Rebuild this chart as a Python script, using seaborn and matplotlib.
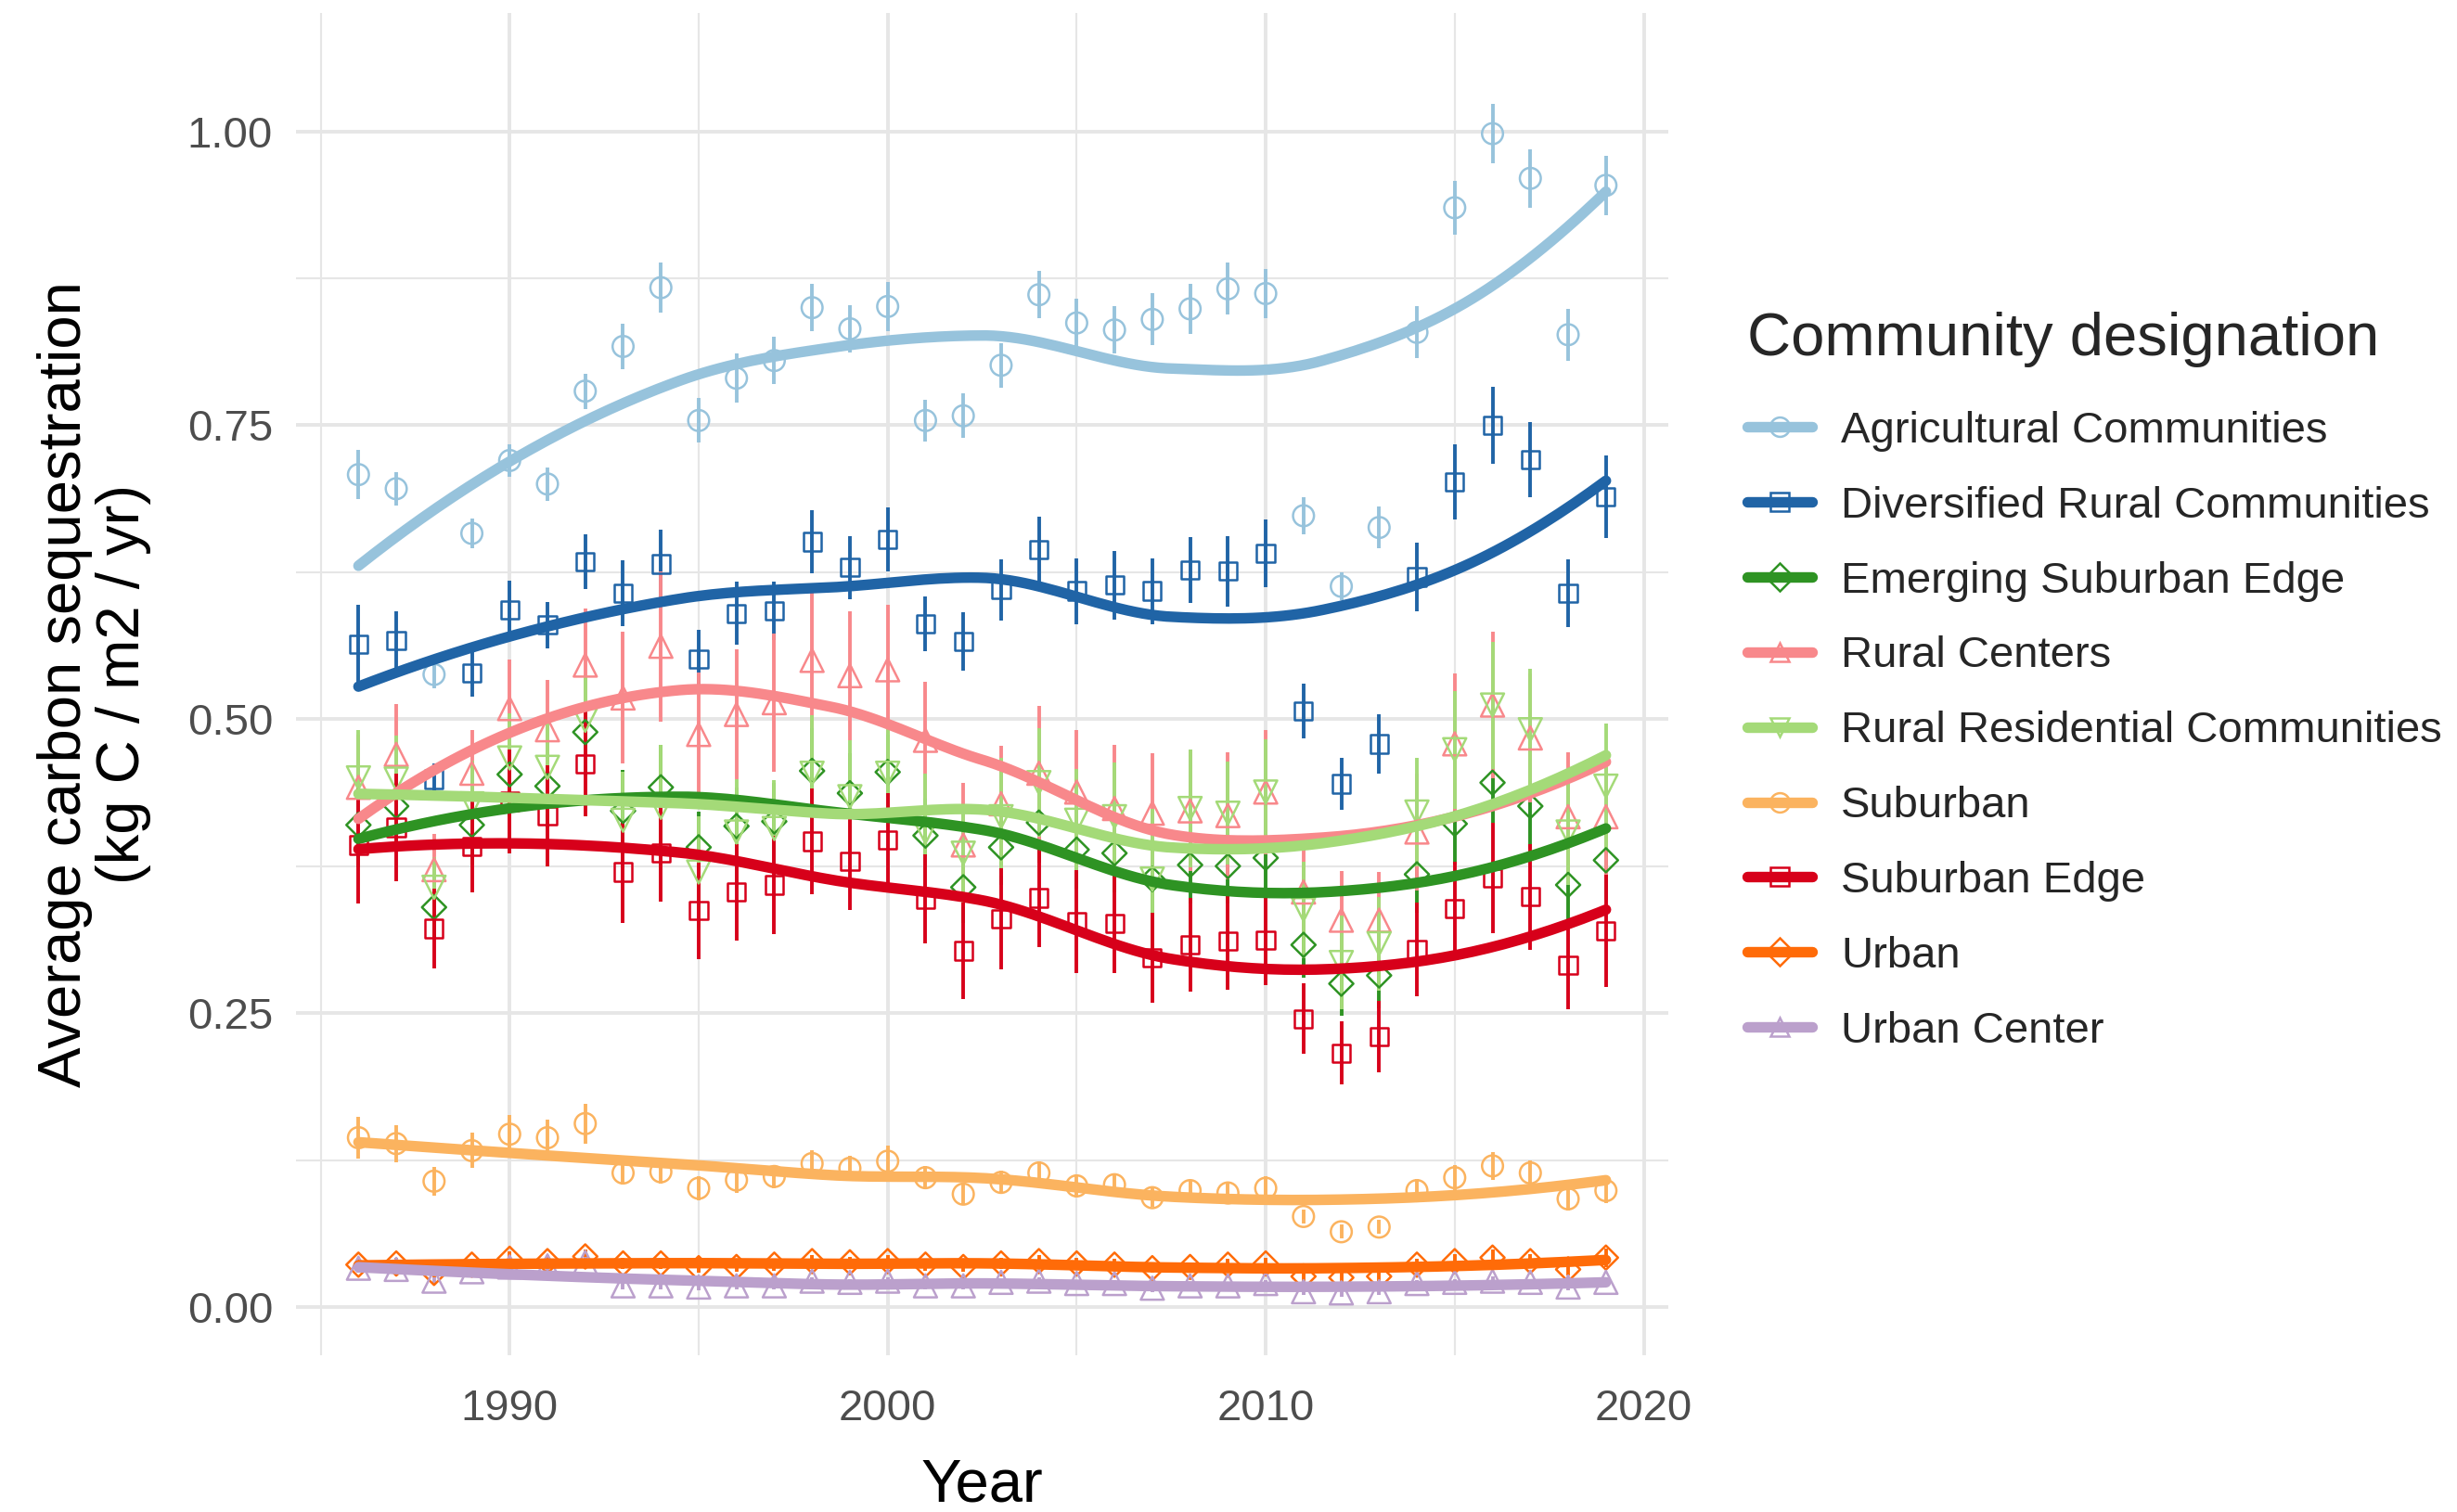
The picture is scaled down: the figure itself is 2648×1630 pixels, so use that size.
import numpy as np
import pandas as pd
import seaborn as sns
import matplotlib
matplotlib.use("Agg")
import matplotlib.pyplot as plt
from matplotlib.lines import Line2D

# ---------------------------------------------------------------- data
years = list(range(1986, 2020))

groups = [
    "Agricultural Communities",
    "Diversified Rural Communities",
    "Emerging Suburban Edge",
    "Rural Centers",
    "Rural Residential Communities",
    "Suburban",
    "Suburban Edge",
    "Urban",
    "Urban Center",
]

agricultural = [0.708, 0.696, 0.538, 0.658, 0.720, 0.700, 0.779, 0.817, 0.867, 0.754,
                0.790, 0.805, 0.850, 0.832, 0.851, 0.754, 0.758, 0.801, 0.861, 0.837,
                0.831, 0.840, 0.849, 0.866, 0.862, 0.673, 0.613, 0.663, 0.829, 0.935,
                0.998, 0.960, 0.827, 0.954]
agricultural_se = [0.021, 0.014, 0.012, 0.013, 0.014, 0.014, 0.015, 0.019, 0.021, 0.019,
                   0.021, 0.020, 0.020, 0.020, 0.021, 0.018, 0.019, 0.019, 0.020, 0.021,
                   0.020, 0.022, 0.021, 0.022, 0.021, 0.016, 0.012, 0.018, 0.022, 0.023,
                   0.025, 0.025, 0.022, 0.025]

diversified = [0.564, 0.567, 0.449, 0.539, 0.593, 0.580, 0.634, 0.607, 0.632, 0.551,
               0.590, 0.592, 0.651, 0.629, 0.653, 0.581, 0.566, 0.610, 0.644, 0.609,
               0.614, 0.609, 0.627, 0.626, 0.641, 0.507, 0.445, 0.479, 0.621, 0.702,
               0.750, 0.721, 0.607, 0.689]
diversified_se = [0.033, 0.025, 0.013, 0.020, 0.025, 0.020, 0.023, 0.028, 0.029, 0.025,
                  0.027, 0.025, 0.027, 0.027, 0.027, 0.023, 0.025, 0.026, 0.028, 0.028,
                  0.029, 0.028, 0.028, 0.030, 0.029, 0.023, 0.022, 0.025, 0.029, 0.032,
                  0.033, 0.032, 0.029, 0.035]

emerging = [0.410, 0.426, 0.340, 0.410, 0.453, 0.443, 0.489, 0.422, 0.442, 0.391,
            0.409, 0.413, 0.456, 0.437, 0.455, 0.401, 0.357, 0.391, 0.412, 0.389,
            0.386, 0.364, 0.376, 0.375, 0.382, 0.308, 0.275, 0.282, 0.368, 0.411,
            0.446, 0.426, 0.359, 0.380]
emerging_se = [0.036, 0.035, 0.027, 0.034, 0.036, 0.035, 0.037, 0.035, 0.036, 0.030,
               0.033, 0.033, 0.036, 0.034, 0.035, 0.032, 0.030, 0.032, 0.034, 0.033,
               0.033, 0.031, 0.033, 0.032, 0.033, 0.028, 0.027, 0.028, 0.033, 0.035,
               0.034, 0.036, 0.032, 0.034]

rural_centers = [0.442, 0.470, 0.372, 0.454, 0.509, 0.491, 0.546, 0.518, 0.562, 0.487,
                 0.504, 0.514, 0.550, 0.537, 0.542, 0.482, 0.393, 0.428, 0.454, 0.438,
                 0.424, 0.420, 0.422, 0.418, 0.438, 0.353, 0.329, 0.329, 0.404, 0.479,
                 0.512, 0.484, 0.417, 0.417]
rural_centers_se = [0.045, 0.043, 0.030, 0.037, 0.042, 0.042, 0.048, 0.056, 0.064, 0.053,
                    0.055, 0.059, 0.058, 0.055, 0.055, 0.050, 0.053, 0.049, 0.057, 0.053,
                    0.054, 0.051, 0.051, 0.054, 0.053, 0.036, 0.042, 0.041, 0.050, 0.060,
                    0.062, 0.055, 0.055, 0.050]

rural_residential = [0.450, 0.449, 0.357, 0.428, 0.467, 0.459, 0.499, 0.414, 0.425, 0.370,
                     0.404, 0.407, 0.454, 0.434, 0.454, 0.404, 0.386, 0.417, 0.446, 0.414,
                     0.417, 0.364, 0.424, 0.420, 0.438, 0.338, 0.293, 0.309, 0.421, 0.474,
                     0.512, 0.491, 0.404, 0.443]
rural_residential_se = [0.041, 0.037, 0.026, 0.037, 0.038, 0.040, 0.038, 0.041, 0.053, 0.047,
                        0.045, 0.041, 0.049, 0.048, 0.046, 0.050, 0.042, 0.050, 0.046, 0.044,
                        0.046, 0.060, 0.050, 0.044, 0.045, 0.041, 0.040, 0.040, 0.046, 0.050,
                        0.054, 0.052, 0.045, 0.053]

suburban = [0.144, 0.139, 0.107, 0.133, 0.147, 0.144, 0.156, 0.114, 0.115, 0.101,
            0.108, 0.111, 0.122, 0.118, 0.124, 0.110, 0.096, 0.106, 0.114, 0.103,
            0.104, 0.093, 0.099, 0.097, 0.101, 0.077, 0.064, 0.068, 0.099, 0.110,
            0.120, 0.114, 0.092, 0.099]
suburban_se = [0.018, 0.016, 0.012, 0.015, 0.016, 0.015, 0.017, 0.010, 0.010, 0.010,
               0.011, 0.010, 0.011, 0.011, 0.013, 0.010, 0.009, 0.010, 0.010, 0.010,
               0.010, 0.008, 0.009, 0.009, 0.010, 0.006, 0.006, 0.006, 0.010, 0.011,
               0.012, 0.011, 0.010, 0.011]

suburban_edge = [0.393, 0.408, 0.322, 0.392, 0.430, 0.418, 0.462, 0.370, 0.386, 0.337,
                 0.353, 0.359, 0.396, 0.379, 0.397, 0.347, 0.303, 0.330, 0.348, 0.328,
                 0.326, 0.297, 0.308, 0.311, 0.312, 0.245, 0.216, 0.230, 0.304, 0.339,
                 0.365, 0.349, 0.291, 0.320]
suburban_edge_se = [0.050, 0.046, 0.034, 0.039, 0.044, 0.043, 0.045, 0.043, 0.041, 0.041,
                    0.041, 0.042, 0.045, 0.041, 0.040, 0.038, 0.041, 0.043, 0.042, 0.044,
                    0.042, 0.038, 0.040, 0.041, 0.038, 0.030, 0.027, 0.030, 0.040, 0.040,
                    0.047, 0.045, 0.038, 0.048]

urban = [0.036, 0.037, 0.029, 0.036, 0.041, 0.039, 0.043, 0.037, 0.037, 0.033,
         0.034, 0.036, 0.039, 0.038, 0.039, 0.036, 0.034, 0.037, 0.039, 0.037,
         0.036, 0.033, 0.034, 0.036, 0.037, 0.026, 0.025, 0.026, 0.036, 0.039,
         0.042, 0.039, 0.032, 0.042]
urban_se = [0.005, 0.005, 0.004, 0.005, 0.006, 0.005, 0.006, 0.005, 0.005, 0.004,
            0.004, 0.005, 0.005, 0.005, 0.005, 0.005, 0.004, 0.005, 0.005, 0.005,
            0.005, 0.004, 0.004, 0.005, 0.005, 0.004, 0.004, 0.004, 0.005, 0.006,
            0.007, 0.006, 0.005, 0.008]

urban_center = [0.033, 0.032, 0.022, 0.030, 0.034, 0.035, 0.038, 0.018, 0.018, 0.017,
                0.018, 0.018, 0.022, 0.021, 0.022, 0.018, 0.018, 0.021, 0.022, 0.020,
                0.020, 0.016, 0.018, 0.018, 0.020, 0.013, 0.012, 0.013, 0.020, 0.021,
                0.022, 0.021, 0.017, 0.021]
urban_center_se = [0.004, 0.004, 0.003, 0.004, 0.004, 0.004, 0.005, 0.003, 0.003, 0.003,
                   0.003, 0.003, 0.003, 0.003, 0.003, 0.003, 0.003, 0.003, 0.003, 0.003,
                   0.003, 0.003, 0.003, 0.003, 0.003, 0.003, 0.003, 0.003, 0.003, 0.003,
                   0.004, 0.003, 0.003, 0.004]

means = [agricultural, diversified, emerging, rural_centers, rural_residential,
         suburban, suburban_edge, urban, urban_center]
errors = [agricultural_se, diversified_se, emerging_se, rural_centers_se,
          rural_residential_se, suburban_se, suburban_edge_se, urban_se, urban_center_se]

colors = ["#97c3dc", "#2064a6", "#2e9323", "#f8888b", "#a4da78",
          "#fbb35f", "#d7001a", "#ff6b08", "#bba0cc"]
markers = ["o", "s", "D", "^", "v", "o", "s", "D", "^"]
marker_sizes = [66, 48, 44, 80, 80, 66, 48, 44, 80]

# ---------------------------------------------------------------- tables
df = pd.DataFrame({
    "Year": np.tile(years, len(groups)),
    "group": np.repeat(groups, len(years)),
    "mean": np.concatenate(means),
    "se": np.concatenate(errors),
})
df["lo"] = df["mean"] - df["se"]
df["hi"] = df["mean"] + df["se"]


def local_fit(x, y, x0, q):
    """Tricube-weighted local quadratic at x0: returns value and slope."""
    d = np.abs(x - x0)
    h = np.sort(d)[q - 1]
    u = d / h
    w = np.where(u < 1, (1 - u ** 3) ** 3, 0.0)
    X = np.column_stack([np.ones_like(x), x - x0, (x - x0) ** 2])
    sw = np.sqrt(w)
    beta, *_ = np.linalg.lstsq(X * sw[:, None], y * sw, rcond=None)
    return beta[0], beta[1]


def loess(x, y, grid, span=0.75, cell=0.2):
    """loess (degree 2) evaluated on kd-tree vertices and blended with
    cubic Hermite interpolation between them."""
    x = np.asarray(x, float)
    y = np.asarray(y, float)
    order = np.argsort(x)
    x, y = x[order], y[order]
    n = len(x)
    q = int(np.floor(n * span))
    fc = int(np.floor(n * span * cell))
    mu = 0.005 * (x[-1] - x[0])
    verts = {x[0] - mu, x[-1] + mu}

    def split(lo, hi):
        if hi - lo + 1 <= fc:
            return
        m = (lo + hi + 2) // 2 - 1
        verts.add((x[m] + x[m + 1]) / 2)
        split(lo, m)
        split(m + 1, hi)

    split(0, n - 1)
    v = np.array(sorted(verts))
    vals = np.array([local_fit(x, y, vv, q) for vv in v])
    out = []
    for g in grid:
        i = min(np.searchsorted(v, g, side="right") - 1, len(v) - 2)
        h = v[i + 1] - v[i]
        t = (g - v[i]) / h
        h00 = 2 * t ** 3 - 3 * t ** 2 + 1
        h10 = t ** 3 - 2 * t ** 2 + t
        h01 = -2 * t ** 3 + 3 * t ** 2
        h11 = t ** 3 - t ** 2
        out.append(h00 * vals[i, 0] + h10 * h * vals[i, 1]
                   + h01 * vals[i + 1, 0] + h11 * h * vals[i + 1, 1])
    return np.array(out)


grid = np.linspace(years[0], years[-1], 160)
smooth = pd.concat([
    pd.DataFrame({"Year": grid, "group": g,
                  "fit": loess(years, m, grid)})
    for g, m in zip(groups, means)
], ignore_index=True)

# ---------------------------------------------------------------- figure
sns.set_theme(style="whitegrid")
plt.rcParams["font.family"] = ["Liberation Sans", "DejaVu Sans"]

fig, ax = plt.subplots(figsize=(13.24, 8.15), dpi=200)
fig.subplots_adjust(left=0.1205, right=0.679, bottom=0.1037, top=0.9917)
ax.set_facecolor("white")

# error bars
for g, c in zip(groups, colors):
    sub = df[df["group"] == g]
    ax.vlines(sub["Year"], sub["lo"], sub["hi"], color=c, lw=1.4, zorder=3)

# open point markers
for g, c, mk, s in zip(groups, colors, markers, marker_sizes):
    sub = df[df["group"] == g]
    ax.scatter(sub["Year"], sub["mean"], marker=mk, s=s, facecolors="none",
               edgecolors=c, linewidths=0.9, zorder=4)

# loess trend lines
sns.lineplot(data=smooth, x="Year", y="fit", hue="group", hue_order=groups,
             palette=colors, linewidth=4.1, legend=False, ax=ax, zorder=5,
             estimator=None, sort=True)

# ---------------------------------------------------------------- axes
ax.set_xlim(1984.35, 2020.65)
ax.set_ylim(-0.041, 1.101)
ax.set_xticks([1990, 2000, 2010, 2020])
ax.set_xticks([1985, 1995, 2005, 2015], minor=True)
ax.set_yticks([0, 0.25, 0.5, 0.75, 1.0])
ax.set_yticklabels(["0.00", "0.25", "0.50", "0.75", "1.00"])
ax.set_yticks([0.125, 0.375, 0.625, 0.875], minor=True)

ax.grid(which="major", color="#e6e6e6", linewidth=1.4)
ax.grid(which="minor", color="#e6e6e6", linewidth=0.75)
ax.set_axisbelow(True)
for sp in ax.spines.values():
    sp.set_visible(False)
ax.tick_params(which="both", length=0)
ax.tick_params(axis="both", which="major", labelsize=17, labelcolor="#4d4d4d")
ax.tick_params(axis="y", which="major", pad=9)
ax.tick_params(axis="x", which="major", pad=13)

ax.set_xlabel("Year", fontsize=23.5, color="black", labelpad=11)
ax.set_ylabel("Average carbon sequestration\n(kg C / m2 / yr)", fontsize=23.5,
              color="black", labelpad=14, linespacing=1.05)

# ---------------------------------------------------------------- legend
handles = [
    Line2D([0], [0], color=c, lw=4.1, marker=mk, markersize=7.5,
           markerfacecolor="none", markeredgecolor=c, markeredgewidth=0.9)
    for c, mk in zip(colors, markers)
]
leg = ax.legend(handles, groups, title="Community designation",
                loc="upper left", bbox_to_anchor=(0.702, 0.8084),
                bbox_transform=fig.transFigure, frameon=False,
                fontsize=17, title_fontsize=23.5, labelspacing=0.78,
                handlelength=1.5, handletextpad=0.65, borderpad=0,
                alignment="left")
leg._legend_box.sep = 16.9

fig.savefig("out.png", dpi=200, facecolor="white")
